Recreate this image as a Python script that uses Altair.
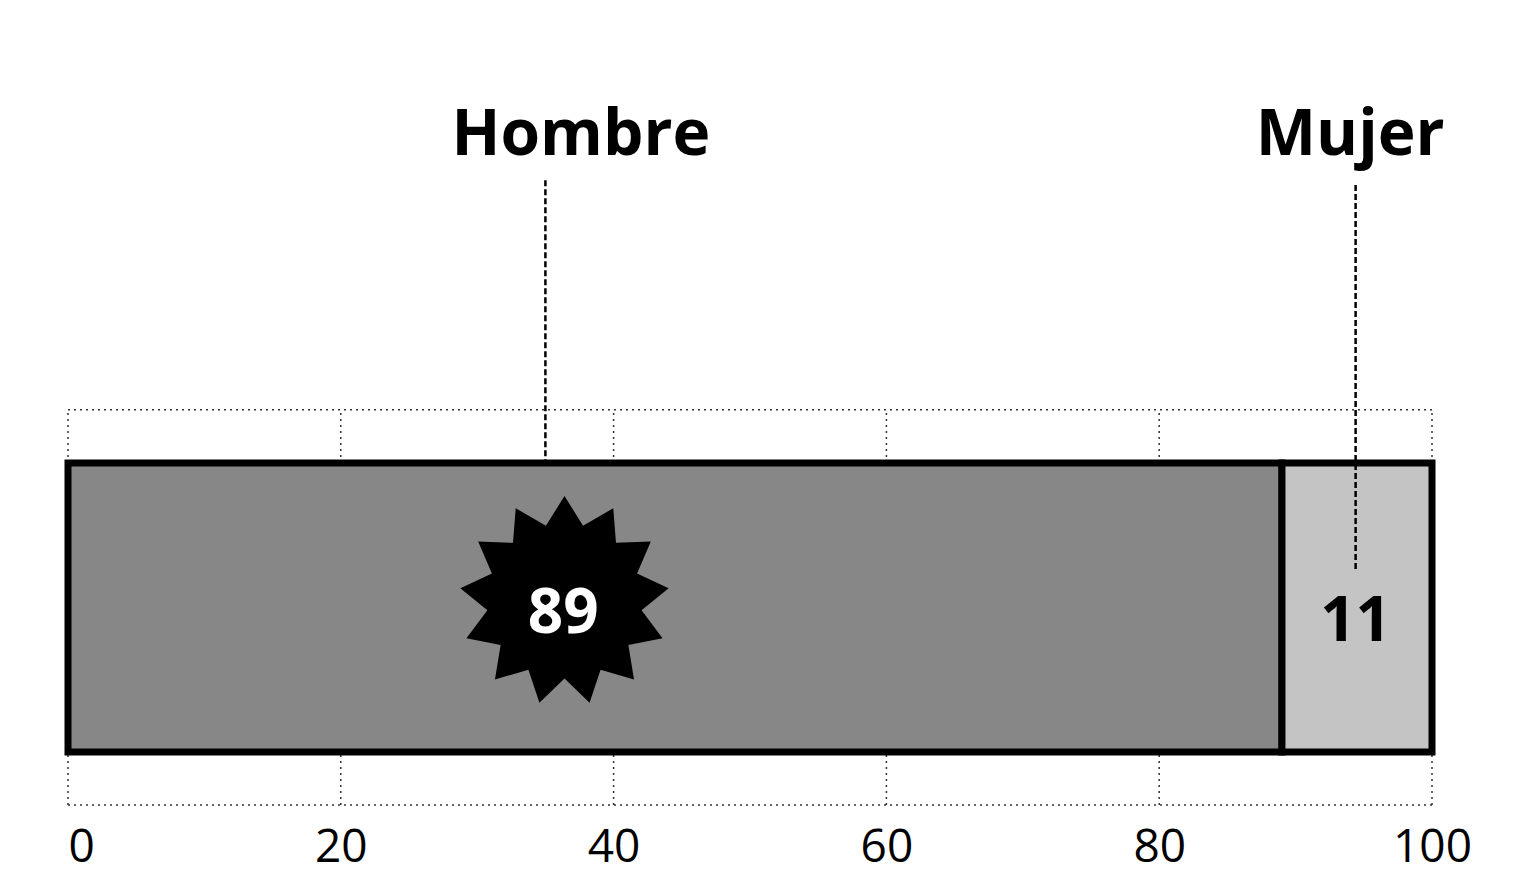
import math
import altair as alt
import pandas as pd

# Data
categories = ["Hombre", "Mujer"]
values = [89, 11]
label_pos = [35.0, 94.4]       # where the callout lines point
ticks = [0, 20, 40, 60, 80, 100]

# cumulative stack
starts, ends = [], []
acc = 0
for v in values:
    starts.append(acc)
    acc += v
    ends.append(acc)

bars = pd.DataFrame({"cat": categories, "x0": starts, "x1": ends,
                     "y0": [6.65] * 2, "y1": [42.9] * 2,
                     "fill": ["#878787", "#c4c4c4"]})

grid = pd.DataFrame({"t": ticks, "y0": [0.0] * len(ticks), "y1": [49.6] * len(ticks)})
frame = pd.DataFrame({"x0": [0, 0], "x1": [100, 100], "y": [0.0, 49.6]})

callouts = pd.DataFrame({"cat": categories, "x": [37.6, 94.0], "xl": label_pos,
                         "ytext": [81.6, 81.6],
                         "ytop": [78.4, 77.8], "ybot": [42.9, 29.5]})

# starburst shape
n = 13
pts = []
for i in range(2 * n):
    r = 1.0 if i % 2 == 0 else 0.74
    a = math.pi * i / n - math.pi / 2
    pts.append((r * math.cos(a), r * math.sin(a)))
star_path = "M" + " L".join(f"{x:.3f},{y:.3f}" for x, y in pts) + " Z"

nums = pd.DataFrame({"cat": categories, "val": values,
                     "x": [36.3, 94.4], "y": [24.0, 23.0],
                     "color": ["white", "black"]})
star_df = pd.DataFrame({"x": [36.4], "y": [25.6]})

xs = alt.Scale(domain=[0, 100], nice=False, zero=False)
ys = alt.Scale(domain=[0, 100], nice=False, zero=False)

base_x_axis = alt.Axis(values=ticks, domain=False, ticks=False, grid=False,
                       labelFontSize=46, labelFont="Open Sans", labelColor="black",
                       labelPadding=20, title=None, labelFontWeight="normal",
                       labelFlush=False, labelBound=False,
                       labelAlign={"condition": {"test": "datum.value == 0", "value": "left"},
                                   "value": "center"})

gridlines = alt.Chart(grid).mark_rule(color="#333", strokeDash=[2, 4], strokeWidth=1.5).encode(
    x=alt.X("t:Q", scale=xs, axis=base_x_axis),
    y=alt.Y("y0:Q", scale=ys, axis=None), y2="y1:Q",
)

frame_lines = alt.Chart(frame).mark_rule(color="#333", strokeDash=[2, 4], strokeWidth=1.5).encode(
    x=alt.X("x0:Q", scale=xs), x2="x1:Q",
    y=alt.Y("y:Q", scale=ys, axis=None),
)

bar = alt.Chart(bars).mark_rect(stroke="black", strokeWidth=7).encode(
    x=alt.X("x0:Q", scale=xs), x2="x1:Q",
    y=alt.Y("y0:Q", scale=ys, axis=None), y2="y1:Q",
    fill=alt.Fill("fill:N", scale=None),
)

lines = alt.Chart(callouts).mark_rule(color="black", strokeDash=[6, 3], strokeWidth=2.5).encode(
    x=alt.X("xl:Q", scale=xs),
    y=alt.Y("ytop:Q", scale=ys, axis=None), y2="ybot:Q",
)

labels = alt.Chart(callouts).mark_text(fontSize=64, font="Open Sans", fontWeight="bold",
                                       baseline="alphabetic", align="center", color="black").encode(
    x=alt.X("x:Q", scale=xs),
    y=alt.Y("ytext:Q", scale=ys, axis=None),
    text="cat:N",
)

star = alt.Chart(star_df).mark_point(
    shape=star_path, filled=True, color="black", opacity=1, size=44000, strokeWidth=0
).encode(
    x=alt.X("x:Q", scale=xs),
    y=alt.Y("y:Q", scale=ys, axis=None),
)

num_text = alt.Chart(nums).mark_text(fontSize=62, font="Open Sans", fontWeight="bold",
                                     baseline="middle", align="center").encode(
    x=alt.X("x:Q", scale=xs),
    y=alt.Y("y:Q", scale=ys, axis=None),
    text="val:N",
    color=alt.Color("color:N", scale=None),
)

chart = alt.layer(gridlines, frame_lines, bar, lines, labels, star, num_text).properties(
    width=1364, height=797,
    autosize=alt.AutoSizeParams(type="none"),
    padding={"left": 60, "top": 0, "right": 90, "bottom": 76},
    background="white",
).configure_view(stroke=None)

chart.save("out.html", embed_options={"renderer": "svg", "actions": False})
